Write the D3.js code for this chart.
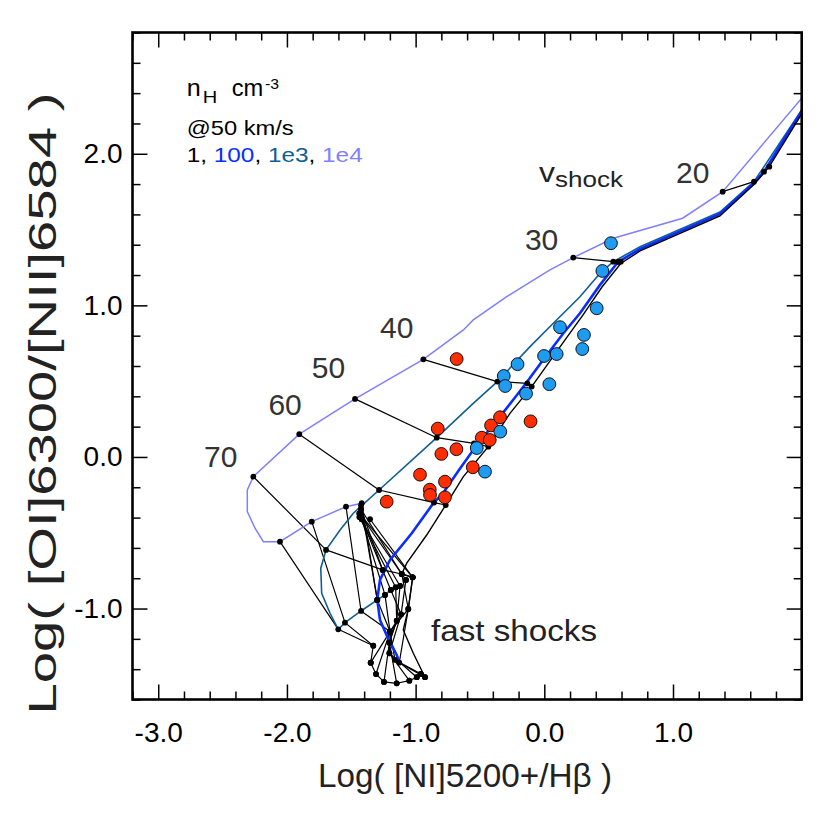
<!DOCTYPE html>
<html><head><meta charset="utf-8">
<script src="https://cdn.jsdelivr.net/npm/d3@7"></script>
<style>body{margin:0;background:#fff}svg{display:block}</style>
</head><body>
<svg id="chart" width="834" height="834"></svg>
<script>
// ---------------- data ----------------
const xMajorTicks = [-3, -2, -1, 0, 1, 2];
const xTickLabels = ["-3.0", "-2.0", "-1.0", "0.0", "1.0", ""];
const yMajorTicks = [-1, 0, 1, 2];
const yTickLabels = ["-1.0", "0.0", "1.0", "2.0"];
const xMinorTicks = [-3.2,-2.8,-2.6,-2.4,-2.2,-1.8,-1.6,-1.4,-1.2,-0.8,-0.6,-0.4,-0.2,0.2,0.4,0.6,0.8,1.2,1.4,1.6,1.8];
const yMinorTicks = [-1.6,-1.4,-1.2,-0.8,-0.6,-0.4,-0.2,0.2,0.4,0.6,0.8,1.2,1.4,1.6,1.8,2.2,2.4,2.6,2.8];

// model curves (log ratios) for each pre-shock density
const curveN1e4 = [[2.298,2.665],[1.386,1.750],[1.075,1.575],[0.536,1.443],[0.225,1.315],[0.044,1.234],[-0.292,1.057],[-0.552,0.904],[-0.629,0.838],[-0.940,0.644],[-1.471,0.383],[-1.904,0.150],[-2.261,-0.130],[-2.308,-0.218],[-2.308,-0.361],[-2.248,-0.470],[-2.183,-0.559],[-2.054,-0.559],[-1.807,-0.427],[-1.541,-0.328],[-1.419,-0.305]];
const curveN1e3 = [[2.298,2.751],[2.000,2.289],[1.629,1.816],[1.365,1.616],[0.744,1.387],[0.536,1.288],[0.433,1.212],[0.277,1.057],[0.070,0.882],[-0.111,0.728],[-0.365,0.497],[-0.552,0.354],[-0.836,0.127],[-1.284,-0.218],[-1.484,-0.371],[-1.587,-0.482],[-1.696,-0.613],[-1.737,-0.734],[-1.730,-0.899],[-1.665,-1.031],[-1.601,-1.137],[-1.549,-1.093],[-1.424,-1.016],[-1.298,-0.943],[-1.238,-0.910],[-1.193,-0.877],[-1.155,-0.860],[-1.121,-0.851]];
const curveN100 = [[2.298,2.764],[2.000,2.282],[1.707,1.882],[1.629,1.807],[1.365,1.603],[0.744,1.372],[0.573,1.286],[0.433,1.135],[0.277,0.948],[0.148,0.816],[-0.010,0.640],[-0.142,0.486],[-0.243,0.376],[-0.344,0.266],[-0.515,0.090],[-0.663,-0.086],[-0.787,-0.239],[-0.862,-0.305],[-1.030,-0.503],[-1.199,-0.679],[-1.277,-0.811],[-1.298,-0.943],[-1.277,-1.075],[-1.220,-1.185],[-1.147,-1.306],[-1.121,-1.361]];
const curveN1 = [[2.298,2.737],[2.000,2.263],[1.748,1.915],[1.629,1.797],[1.365,1.590],[0.744,1.359],[0.594,1.276],[0.448,1.121],[0.301,0.937],[0.161,0.772],[-0.098,0.464],[-0.267,0.288],[-0.435,0.068],[-0.629,-0.130],[-0.766,-0.317],[-0.914,-0.515],[-1.069,-0.701],[-1.108,-0.772],[-1.023,-0.794],[-1.057,-1.003],[-1.096,-1.141],[-1.018,-1.295],[-0.927,-1.453]];

// iso-velocity lines (nodes: 1e4, 1e3, 100, 1)
const isoVelocityLines = [
  [[1.386,1.750],[1.629,1.816],[1.707,1.882],[1.748,1.915]],
  [[0.225,1.315],[0.536,1.288],[0.573,1.286],[0.594,1.288]],
  [[-0.940,0.644],[-0.365,0.497],[-0.132,0.486],[-0.098,0.464]],
  [[-1.471,0.383],[-0.836,0.127],[-0.546,0.089],[-0.435,0.068]],
  [[-1.904,0.150],[-1.284,-0.218],[-0.857,-0.301],[-0.766,-0.317]],
  [[-2.261,-0.130],[-1.696,-0.613],[-1.256,-0.745],[-1.108,-0.772],[-1.023,-0.794]],
  [[-2.054,-0.559],[-1.601,-1.137],[-1.329,-1.245],[-1.349,-1.357]],
  [[-1.807,-0.427],[-1.549,-1.093],[-1.329,-1.245]],
  [[-1.541,-0.328],[-1.424,-1.016],[-1.199,-1.152]],
  [[-1.419,-0.305],[-1.298,-0.943]]
];
// fast-shock grid: fan from the clustered nodes, hourglass and lower arc
const fastShockFan = [
  [[-1.424,-0.345],[-1.256,-0.745]],
  [[-1.424,-0.345],[-1.108,-0.772]],
  [[-1.437,-0.373],[-1.023,-0.794]],
  [[-1.437,-0.373],[-1.075,-0.811]],
  [[-1.436,-0.396],[-1.121,-0.851]],
  [[-1.436,-0.396],[-1.155,-0.860]],
  [[-1.419,-0.411],[-1.193,-0.877]],
  [[-1.419,-0.411],[-1.238,-0.910]],
  [[-1.354,-0.411],[-1.023,-0.794]],
  [[-1.424,-0.320],[-1.298,-0.943]]
];
const fastShockHourglass = [
  [[-1.023,-0.794],[-1.057,-1.003],[-1.199,-1.152],[-1.349,-1.357]],
  [[-1.075,-0.811],[-1.113,-1.038],[-1.199,-1.152],[-1.308,-1.432]],
  [[-1.121,-0.851],[-1.147,-1.080],[-1.204,-1.225],[-1.246,-1.484]],
  [[-1.155,-0.860],[-1.147,-1.080],[-1.204,-1.225],[-1.147,-1.493]],
  [[-1.193,-0.877],[-1.113,-1.038],[-1.204,-1.295],[-1.049,-1.476]],
  [[-1.238,-0.910],[-1.199,-1.152],[-1.204,-1.295],[-0.991,-1.453]],
  [[-1.298,-0.943],[-1.199,-1.152],[-1.160,-1.339],[-0.960,-1.431]],
  [[-1.108,-0.772],[-1.057,-1.003],[-1.127,-1.357],[-0.927,-1.453]]
];
const fastShockArc = [[-1.349,-1.357],[-1.308,-1.432],[-1.246,-1.484],[-1.147,-1.493],[-1.049,-1.476],[-0.991,-1.453],[-0.960,-1.431],[-0.927,-1.453]];

// observations
const redPointsX = [-0.681,-0.828,-0.683,-0.800,-0.966,-0.772,-0.890,-0.888,-0.772,-1.225,-0.556,-0.486,-0.424,-0.414,-0.344,-0.107];
const redPointsY = [0.646,0.187,0.051,0.020,-0.117,-0.163,-0.216,-0.251,-0.266,-0.295,-0.068,0.127,0.112,0.208,0.262,0.235];
const bluePointsX = [0.518,0.451,0.407,0.308,0.295,0.122,-0.002,0.096,-0.208,-0.315,-0.304,-0.142,0.039,-0.342,-0.525,-0.461];
const bluePointsY = [1.410,1.227,0.981,0.805,0.712,0.856,0.666,0.679,0.612,0.534,0.468,0.418,0.480,0.167,0.059,-0.097];

const velocityLabels = ["20","30","40","50","60","70"];
const velocityLabelAnchors = [[1.023,1.805],[-0.151,1.365],[-1.277,0.783],[-1.807,0.519],[-2.144,0.275],[-2.644,-0.066]];

// ---------------- layout ----------------
const svg = d3.select("#chart");
const L = 132.5, R = 801.7, T = 32.5, B = 699.5;
const x = d3.scaleLinear().domain([-3.2, 2.0]).range([L, R]);
const y = d3.scaleLinear().domain([-1.6, 2.8]).range([B, T]);
const FONT = "'Liberation Sans', Arial, Helvetica, sans-serif";
const C1e4 = "#7f7fff", C1e3 = "#0f5f94", C100 = "#0a2dff", C1 = "#000";

svg.append("defs").append("clipPath").attr("id","clip")
  .append("rect").attr("x",L).attr("y",T).attr("width",R-L).attr("height",B-T);

const plot = svg.append("g").attr("clip-path","url(#clip)");
const line = d3.line().x(d => x(d[0])).y(d => y(d[1]));
const blackLines = isoVelocityLines.concat(fastShockFan, fastShockHourglass, [fastShockArc]);

plot.selectAll(".iso").data(blackLines).enter().append("path")
  .attr("d", line).attr("fill","none").attr("stroke","#000").attr("stroke-width",1.2).attr("stroke-linejoin","round");

plot.append("path").datum(curveN1e4).attr("d", line).attr("fill","none").attr("stroke",C1e4).attr("stroke-width",1.5);
plot.append("path").datum(curveN1e3).attr("d", line).attr("fill","none").attr("stroke",C1e3).attr("stroke-width",1.6);
plot.append("path").datum(curveN100).attr("d", line).attr("fill","none").attr("stroke",C100).attr("stroke-width",2.6);
plot.append("path").datum(curveN1).attr("d", line).attr("fill","none").attr("stroke",C1).attr("stroke-width",1.4);

// node dots
const nodes = blackLines.flat();
plot.selectAll(".node").data(nodes).enter().append("circle")
  .attr("cx", d => x(d[0])).attr("cy", d => y(d[1])).attr("r", 2.9).attr("fill","#000");

// observation circles
plot.selectAll(".red").data(redPointsX).enter().append("circle")
  .attr("cx", (d) => x(d)).attr("cy", (d,i) => y(redPointsY[i])).attr("r", 6.4)
  .attr("fill","#ff2e00").attr("stroke","#000").attr("stroke-width",0.9);
plot.selectAll(".blue").data(bluePointsX).enter().append("circle")
  .attr("cx", (d) => x(d)).attr("cy", (d,i) => y(bluePointsY[i])).attr("r", 6.4)
  .attr("fill","#1f9bf0").attr("stroke","#000").attr("stroke-width",0.9);

// ---------------- axes ----------------
function styleAxis(g){ g.select(".domain").remove(); g.selectAll("line").attr("stroke","#000").attr("stroke-width",1.5); }
svg.append("g").attr("transform",`translate(0,${B})`)
  .call(d3.axisBottom(x).tickValues(xMajorTicks).tickSize(-15).tickPadding(23).tickFormat((d,i)=>xTickLabels[i]))
  .call(styleAxis).call(g=>g.selectAll("text").attr("font-size",28).attr("font-family",FONT).attr("fill","#000"));
svg.append("g").attr("transform",`translate(0,${B})`)
  .call(d3.axisBottom(x).tickValues(xMinorTicks).tickSize(-8).tickFormat("")).call(styleAxis);
svg.append("g").attr("transform",`translate(0,${T})`)
  .call(d3.axisTop(x).tickValues(xMajorTicks).tickSize(-15).tickFormat("")).call(styleAxis);
svg.append("g").attr("transform",`translate(0,${T})`)
  .call(d3.axisTop(x).tickValues(xMinorTicks).tickSize(-8).tickFormat("")).call(styleAxis);
svg.append("g").attr("transform",`translate(${L},0)`)
  .call(d3.axisLeft(y).tickValues(yMajorTicks).tickSize(-15).tickPadding(10).tickFormat((d,i)=>yTickLabels[i]))
  .call(styleAxis).call(g=>g.selectAll("text").attr("font-size",28).attr("font-family",FONT).attr("fill","#000"));
svg.append("g").attr("transform",`translate(${L},0)`)
  .call(d3.axisLeft(y).tickValues(yMinorTicks).tickSize(-8).tickFormat("")).call(styleAxis);
svg.append("g").attr("transform",`translate(${R},0)`)
  .call(d3.axisRight(y).tickValues(yMajorTicks).tickSize(-15).tickFormat("")).call(styleAxis);
svg.append("g").attr("transform",`translate(${R},0)`)
  .call(d3.axisRight(y).tickValues(yMinorTicks).tickSize(-8).tickFormat("")).call(styleAxis);

svg.append("rect").attr("x",L).attr("y",T).attr("width",R-L).attr("height",B-T)
  .attr("fill","none").attr("stroke","#000").attr("stroke-width",2.6);

// axis titles
svg.append("text").attr("x",465).attr("y",787).attr("text-anchor","middle")
  .attr("font-family",FONT).attr("font-size",33).attr("fill","#222")
  .attr("textLength",294).attr("lengthAdjust","spacingAndGlyphs").text("Log( [NI]5200+/Hβ )");
svg.append("text").attr("transform","translate(56,403.5) rotate(-90)").attr("text-anchor","middle")
  .attr("font-family",FONT).attr("font-size",38).attr("fill","#222")
  .attr("textLength",622).attr("lengthAdjust","spacingAndGlyphs").text("Log( [OI]6300/[NII]6584 )");

// velocity labels
svg.selectAll(".vlab").data(velocityLabels).enter().append("text")
  .attr("x",(d,i)=>x(velocityLabelAnchors[i][0])).attr("y",(d,i)=>y(velocityLabelAnchors[i][1]))
  .attr("font-family",FONT).attr("font-size",30).attr("fill","#333").text(d=>d);

// v_shock label
svg.append("text").attr("x",539).attr("y",181.7).attr("font-family",FONT).attr("fill","#222")
  .attr("font-size",27).attr("textLength",16).attr("lengthAdjust","spacingAndGlyphs").text("v");
svg.append("text").attr("x",555).attr("y",187.3).attr("font-family",FONT).attr("fill","#222")
  .attr("font-size",22).attr("textLength",68).attr("lengthAdjust","spacingAndGlyphs").text("shock");

// fast shocks
svg.append("text").attr("x",431).attr("y",641).attr("font-family",FONT).attr("font-size",30)
  .attr("fill","#222").attr("textLength",166).attr("lengthAdjust","spacingAndGlyphs").text("fast shocks");

// legend
svg.append("text").attr("x",186.7).attr("y",96).attr("font-family",FONT).attr("font-size",24).attr("fill","#000")
  .attr("textLength",14).attr("lengthAdjust","spacingAndGlyphs").text("n");
svg.append("text").attr("x",202.7).attr("y",103.3).attr("font-family",FONT).attr("font-size",17).attr("fill","#000")
  .attr("textLength",14.5).attr("lengthAdjust","spacingAndGlyphs").text("H");
svg.append("text").attr("x",231.7).attr("y",96).attr("font-family",FONT).attr("font-size",23).attr("fill","#000")
  .attr("textLength",31.6).attr("lengthAdjust","spacingAndGlyphs").text("cm");
svg.append("text").attr("x",265).attr("y",88.5).attr("font-family",FONT).attr("font-size",14).attr("fill","#000")
  .attr("textLength",14).attr("lengthAdjust","spacingAndGlyphs").text("-3");
svg.append("text").attr("x",186.7).attr("y",135).attr("font-family",FONT).attr("font-size",21)
  .attr("textLength",107).attr("lengthAdjust","spacingAndGlyphs").attr("fill","#000").text("@50 km/s");
const dens = [["1, ","#000"],["100",C100],[", ","#000"],["1e3",C1e3],[", ","#000"],["1e4",C1e4]];
const dl = svg.append("text").attr("x",186.7).attr("y",161.7).attr("font-family",FONT).attr("font-size",20)
  .attr("textLength",176).attr("lengthAdjust","spacingAndGlyphs");
dl.selectAll("tspan").data(dens).enter().append("tspan").attr("fill",d=>d[1]).text(d=>d[0]);
</script>
</body></html>
